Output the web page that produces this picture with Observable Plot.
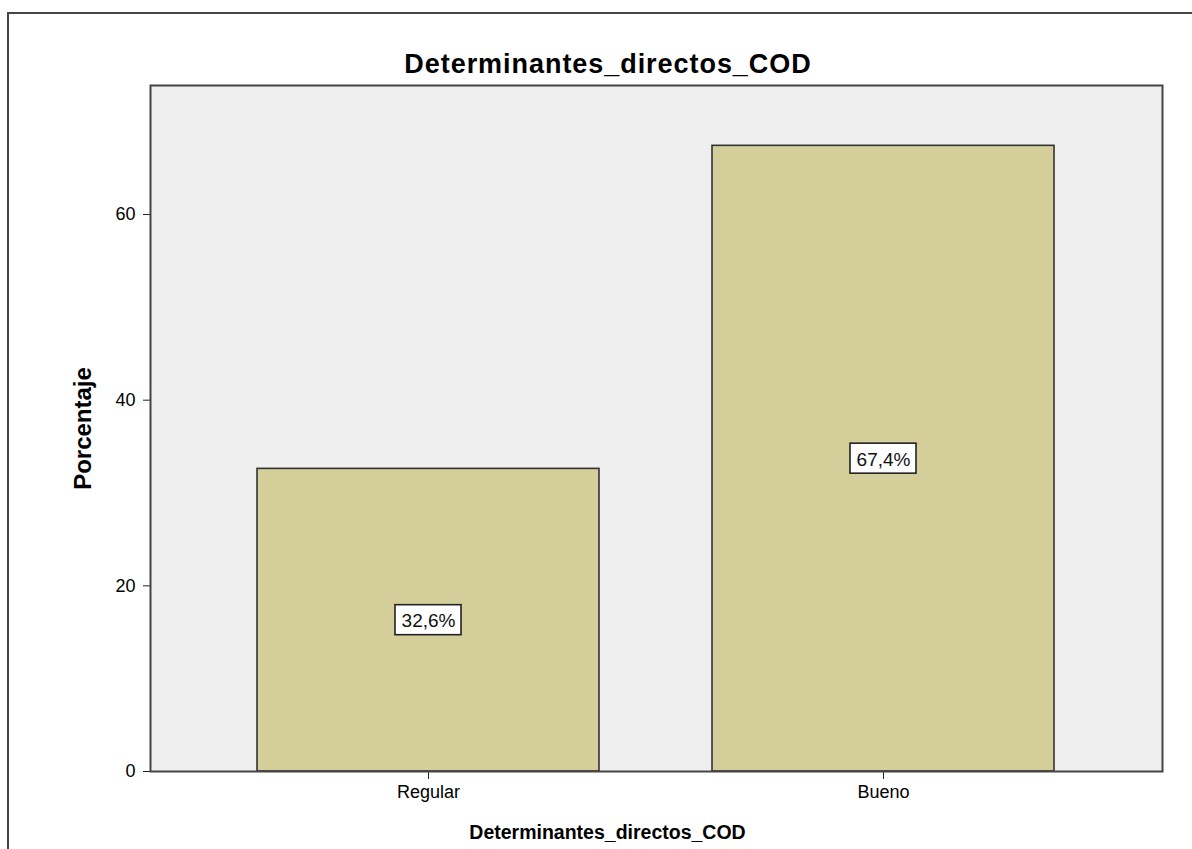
<!DOCTYPE html>
<html>
<head>
<meta charset="utf-8">
<script src="https://cdn.jsdelivr.net/npm/d3@7"></script>
<script src="https://cdn.jsdelivr.net/npm/@observablehq/plot@0.6"></script>
<style>
  html, body { margin: 0; padding: 0; background: #fff; }
  #wrap { position: relative; width: 1192px; height: 849px; overflow: hidden; }
  #border { position: absolute; left: 7px; top: 12px; width: 1200px; height: 900px;
            border-left: 2px solid #444; border-top: 2px solid #444; box-sizing: border-box; }
  #chart { position: absolute; left: 0; top: 0; }
</style>
</head>
<body>
<div id="wrap"><div id="border"></div><div id="chart"></div></div>
<script>
const categories = ["Regular", "Bueno"];
const percentages = [32.6, 67.4];
const valueLabels = ["32,6%", "67,4%"];
const yTicks = [0, 20, 40, 60];
const chartTitle = "Determinantes_directos_COD";
const xTitle = "Determinantes_directos_COD";
const yTitle = "Porcentaje";

const data = categories.map((c, i) => ({category: c, value: percentages[i], label: valueLabels[i]}));
const font = "Liberation Sans, Arial, sans-serif";

const plot = Plot.plot({
  width: 1192,
  height: 849,
  marginLeft: 150,
  marginRight: 30,
  marginTop: 85,
  marginBottom: 78,
  style: {fontFamily: font, fontSize: "18px", color: "#000", background: "transparent"},
  x: {domain: categories, paddingInner: 0.248, paddingOuter: 0.236, label: null},
  y: {domain: [0, 73.9], label: null},
  marks: [
    Plot.frame({fill: "#efefef", stroke: "none"}),
    Plot.barY(data, {x: "category", y: "value", fill: "#d3ce9a", stroke: "#333", strokeWidth: 1.6}),
    Plot.rect(data, {x: "category", y1: d => d.value / 2, y2: d => d.value / 2,
      insetLeft: 138, insetRight: 138, insetTop: -15, insetBottom: -15,
      fill: "#fff", stroke: "#222", strokeWidth: 1.6}),
    Plot.text(data, {x: "category", y: d => d.value / 2, dy: 1, text: "label", fontSize: 19, fill: "#111"}),
    Plot.axisY({ticks: yTicks, tickSize: 7, tickPadding: 8, fontSize: 18, label: null, stroke: "#222"}),
    Plot.axisX({tickSize: 8, tickPadding: 6, fontSize: 18, label: null, stroke: "#222"}),
    Plot.frame({stroke: "#444", strokeWidth: 2}),
    Plot.text([chartTitle], {frameAnchor: "top-left", dx: 457, dy: -21, lineAnchor: "middle", text: d => d,
      fontSize: 27, fontWeight: "bold", textAnchor: "middle"}),
    Plot.text([xTitle], {frameAnchor: "bottom-left", dx: 457, dy: 61, lineAnchor: "middle", text: d => d,
      fontSize: 19.5, fontWeight: "bold", textAnchor: "middle"}),
    Plot.text([yTitle], {frameAnchor: "left", dx: -67, text: d => d, rotate: -90,
      fontSize: 24, fontWeight: "bold", textAnchor: "middle"})
  ]
});
d3.select(plot).selectAll('g[font-size="27"] text').attr("letter-spacing", "0.95px").attr("dx", "0.5");
document.getElementById("chart").appendChild(plot);
</script>
</body>
</html>
